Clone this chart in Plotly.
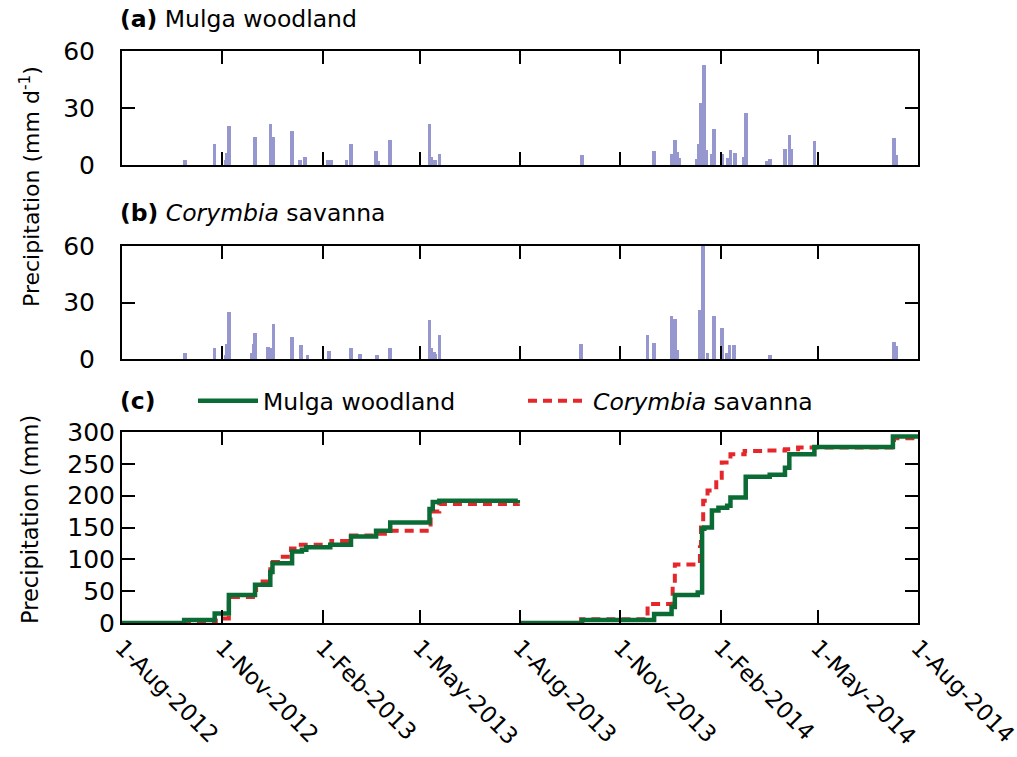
import plotly.graph_objects as go

# ---------------- data ----------------
mulga_dates = ["2012-09-28", "2012-10-25", "2012-11-04", "2012-11-05", "2012-11-07",
               "2012-12-01", "2012-12-15", "2012-12-18", "2013-01-04", "2013-01-11",
               "2013-01-16", "2013-02-06", "2013-02-09", "2013-02-23", "2013-02-27",
               "2013-03-22", "2013-03-24", "2013-04-04", "2013-05-10", "2013-05-12",
               "2013-05-15", "2013-05-19",
               "2013-09-27", "2013-12-02", "2013-12-18", "2013-12-21", "2013-12-23",
               "2013-12-25", "2014-01-10", "2014-01-12", "2014-01-14", "2014-01-17",
               "2014-01-19", "2014-01-24", "2014-01-26", "2014-02-02", "2014-02-08",
               "2014-02-10", "2014-02-14", "2014-02-22", "2014-02-24", "2014-03-15",
               "2014-03-18", "2014-04-01", "2014-04-05", "2014-04-07", "2014-04-28",
               "2014-07-10", "2014-07-12"]
mulga_rain = [2.6, 10.9, 2.6, 6.1, 20.5,
              14.9, 21.6, 14.6, 17.9, 2.6,
              4.4, 2.6, 2.6, 2.6, 10.9,
              7.4, 2.0, 13.0, 21.6, 4.4,
              2.6, 5.8,
              5.1, 7.4, 5.8, 13.2, 7.0,
              3.5, 3.2, 10.9, 32.5, 52.6,
              7.9, 5.8, 18.8, 5.8, 3.5,
              7.9, 6.1, 4.4, 27.5, 2.1,
              3.3, 8.2, 15.6, 8.4, 12.8,
              14.0, 5.3]

cory_dates = ["2012-09-28", "2012-10-25", "2012-11-04", "2012-11-05", "2012-11-07",
              "2012-11-28", "2012-11-30", "2012-12-01", "2012-12-13", "2012-12-15",
              "2012-12-18", "2013-01-04", "2013-01-12", "2013-01-18", "2013-02-07",
              "2013-02-27", "2013-03-07", "2013-03-23", "2013-04-04", "2013-05-10",
              "2013-05-12", "2013-05-14", "2013-05-15", "2013-05-19",
              "2013-09-26", "2013-11-26", "2013-12-02", "2013-12-18", "2013-12-21",
              "2013-12-23", "2014-01-13", "2014-01-16", "2014-01-20", "2014-01-26",
              "2014-02-02", "2014-02-07", "2014-02-09", "2014-02-13", "2014-03-18",
              "2014-07-10", "2014-07-12"]
cory_rain = [3.0, 5.6, 2.0, 7.9, 24.7,
             3.3, 8.2, 13.9, 6.5, 6.0,
             18.4, 11.8, 7.4, 1.9, 4.2,
             5.6, 2.6, 1.9, 6.0, 20.5,
             6.1, 3.9, 2.5, 12.6,
             8.2, 13.0, 8.6, 23.0, 21.2,
             4.7, 26.1, 70.0, 3.0, 22.6,
             16.7, 3.3, 7.2, 7.7, 1.9,
             8.9, 6.8]

# cumulative precipitation (mm), hydrological years
mulga_cum_dates = ["2012-08-01", "2012-09-27", "2012-10-25", "2012-11-07", "2012-12-01",
                   "2012-12-15", "2012-12-17", "2013-01-04", "2013-01-13", "2013-01-17",
                   "2013-02-08", "2013-02-27", "2013-03-22", "2013-04-04", "2013-05-10",
                   "2013-05-13", "2013-05-19", "2013-07-30",
                   None,
                   "2013-08-01", "2013-09-27", "2013-12-02", "2013-12-18", "2013-12-21",
                   "2014-01-11", "2014-01-15", "2014-01-17", "2014-01-24", "2014-01-30",
                   "2014-02-07", "2014-02-10", "2014-02-24", "2014-03-18", "2014-04-01",
                   "2014-04-05", "2014-04-28", "2014-07-09", "2014-08-01"]
mulga_cum = [0, 4.7, 15, 44, 60,
             80, 94, 112.5, 115, 119,
             123, 136, 145, 158, 179,
             190, 192, 193,
             None,
             0, 4.7, 14, 25, 44,
             48, 148, 150, 176.6, 181,
             184, 197, 229.7, 233, 244,
             265, 276.6, 293, 294]

cory_cum_dates = ["2012-08-01", "2012-10-26", "2012-11-07", "2012-12-02", "2012-12-15",
                  "2012-12-22", "2013-01-03", "2013-01-12", "2013-02-09", "2013-02-27",
                  "2013-03-22", "2013-04-04", "2013-05-11", "2013-05-19", "2013-07-30",
                  None,
                  "2013-08-01", "2013-09-26", "2013-11-26", "2013-12-19", "2013-12-21",
                  "2014-01-13", "2014-01-14", "2014-01-16", "2014-01-20", "2014-01-28",
                  "2014-02-02", "2014-02-10", "2014-02-23", "2014-03-13", "2014-04-01",
                  "2014-04-13", "2014-07-10", "2014-08-01"]
cory_cum = [0, 7, 41, 65, 96,
            104, 117, 123, 128.6, 137.5,
            140, 145, 175, 187, 188,
            None,
            0, 5.7, 29.7, 60, 92,
            119, 150, 192, 208, 228,
            252, 265, 270, 271, 273,
            275.5, 290, 290]

tick_dates = ["2012-08-01", "2012-11-01", "2013-02-01", "2013-05-01", "2013-08-01",
              "2013-11-01", "2014-02-01", "2014-05-01", "2014-08-01"]
tick_labels = ["1-Aug-2012", "1-Nov-2012", "1-Feb-2013", "1-May-2013", "1-Aug-2013",
               "1-Nov-2013", "1-Feb-2014", "1-May-2014", "1-Aug-2014"]

# ---------------- styling ----------------
FONT = "DejaVu Sans, Liberation Sans, Arial, sans-serif"
BAR_COLOR = "#9797cf"
GREEN = "#0b6b34"
RED = "#e5272b"
DAY_MS = 86400000
TXT = 23.5

fig = go.Figure()

fig.add_trace(go.Bar(x=mulga_dates, y=mulga_rain, width=3.3 * DAY_MS,
                     marker=dict(color=BAR_COLOR, line=dict(width=0)),
                     xaxis="x", yaxis="y", showlegend=False))
fig.add_trace(go.Bar(x=cory_dates, y=cory_rain, width=3.3 * DAY_MS,
                     marker=dict(color=BAR_COLOR, line=dict(width=0)),
                     xaxis="x2", yaxis="y2", showlegend=False))

fig.add_trace(go.Scatter(x=cory_cum_dates, y=cory_cum, mode="lines",
                         line=dict(color=RED, width=4, dash="9px,6px", shape="hv"),
                         name="<i>Corymbia</i> savanna", legendrank=2,
                         xaxis="x3", yaxis="y3", connectgaps=False))
fig.add_trace(go.Scatter(x=mulga_cum_dates, y=mulga_cum, mode="lines",
                         line=dict(color=GREEN, width=4.5, shape="hv"),
                         name="Mulga woodland", legendrank=1,
                         xaxis="x3", yaxis="y3", connectgaps=False))

W, H = 1017, 757
ML, MR, MT, MB = 122, 99, 50, 134
PH = H - MT - MB


def ydom(top_px, bot_px):
    return [(H - MB - bot_px) / PH, (H - MB - top_px) / PH]


def py(px):
    return (H - MB - px) / PH


def pxx(px):
    return (px - ML) / (W - ML - MR)


common_x = dict(type="date", range=["2012-08-01", "2014-08-01"],
                tickvals=tick_dates, ticktext=tick_labels, automargin=False,
                ticks="inside", ticklen=13, tickwidth=1.5, tickcolor="black",
                showline=True, linecolor="black", linewidth=2, mirror="ticks",
                showgrid=False, zeroline=False)
common_y = dict(ticks="inside", ticklen=13, tickwidth=1.5, tickcolor="black",
                showline=True, linecolor="black", linewidth=2, mirror="ticks",
                showgrid=False, zeroline=False, automargin=False,
                tickfont=dict(size=25, family=FONT, color="black"))

fig.update_layout(
    width=W, height=H,
    margin=dict(l=ML, r=MR, t=MT, b=MB, autoexpand=False),
    paper_bgcolor="white", plot_bgcolor="white",
    font=dict(family=FONT, size=TXT, color="black"),
    bargap=0, barmode="overlay",
    xaxis=dict(common_x, domain=[0, 1], anchor="y", showticklabels=False),
    yaxis=dict(common_y, domain=ydom(51, 165), range=[0, 60], tickvals=[0, 30, 60],
               ticklabelstandoff=20),
    xaxis2=dict(common_x, domain=[0, 1], anchor="y2", showticklabels=False),
    yaxis2=dict(common_y, domain=ydom(246, 359), range=[0, 60], tickvals=[0, 30, 60],
                ticklabelstandoff=20),
    xaxis3=dict(common_x, domain=[0, 1], anchor="y3", showticklabels=True,
                tickangle=45, ticklabelstandoff=0, ticklabeloverflow="allow",
                tickfont=dict(size=23, family=FONT, color="black")),
    yaxis3=dict(common_y, domain=ydom(432, 623), range=[0, 300],
                tickvals=[0, 50, 100, 150, 200, 250, 300], ticklabelstandoff=0),
    showlegend=True,
    legend=dict(orientation="h", x=pxx(193), y=py(401), xanchor="left", yanchor="middle",
                entrywidth=255, entrywidthmode="pixels", itemwidth=60,
                font=dict(size=TXT, family=FONT, color="black"),
                bgcolor="rgba(0,0,0,0)", borderwidth=0, traceorder="normal"),
)

annotations = [
    dict(text="<b>(a)</b> Mulga woodland", x=pxx(118), y=py(19)),
    dict(text="<b>(b)</b> <i>Corymbia</i> savanna", x=pxx(118), y=py(213)),
    dict(text="<b>(c)</b>", x=pxx(118), y=py(401)),
]
for a in annotations:
    fig.add_annotation(xref="paper", yref="paper", xanchor="left", yanchor="middle",
                       showarrow=False, font=dict(size=TXT, family=FONT, color="black"), **a)

fig.add_annotation(text="Precipitation (mm d<sup>-1</sup>)", xref="paper", yref="paper",
                   x=pxx(30), y=py(187), textangle=-90, showarrow=False,
                   xanchor="center", yanchor="middle",
                   font=dict(size=22, family=FONT, color="black"))
fig.add_annotation(text="Precipitation (mm)", xref="paper", yref="paper",
                   x=pxx(30), y=py(520), textangle=-90, showarrow=False,
                   xanchor="center", yanchor="middle",
                   font=dict(size=22.5, family=FONT, color="black"))

fig.write_html("out.html")
